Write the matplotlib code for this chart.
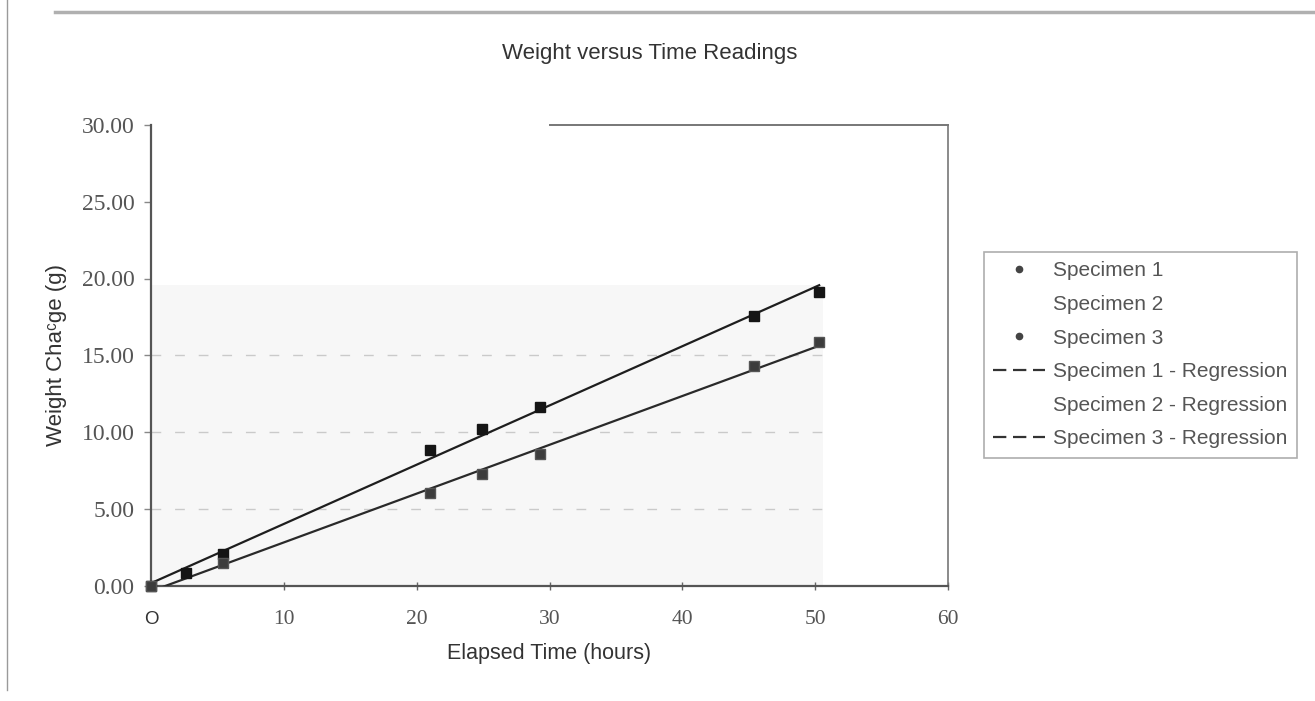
import numpy as np
import matplotlib
matplotlib.use("Agg")
import matplotlib.pyplot as plt
from matplotlib.lines import Line2D

# ---- data ----
time_1 = [0.0, 2.6, 5.4, 21.0, 24.9, 29.3, 45.4, 50.3]
weight_1 = [0.00, 0.84, 2.05, 8.83, 10.18, 11.65, 17.56, 19.14]
time_3 = [0.0, 5.4, 21.0, 24.9, 29.3, 45.4, 50.3]
weight_3 = [0.00, 1.45, 6.00, 7.24, 8.55, 14.32, 15.88]

x_ticks = [0, 10, 20, 30, 40, 50, 60]
x_tick_labels = ["O", "10", "20", "30", "40", "50", "60"]
y_ticks = [0, 5, 10, 15, 20, 25, 30]
grid_levels = [5, 10, 15]
legend_labels = ["Specimen 1", "Specimen 2", "Specimen 3",
                 "Specimen 1 - Regression", "Specimen 2 - Regression",
                 "Specimen 3 - Regression"]

title = "Weight versus Time Readings"
x_label = "Elapsed Time (hours)"
y_label = "Weight Cha\u1d9cge (g)"

SANS = ["Liberation Sans", "DejaVu Sans"]
SERIF = ["Liberation Serif", "DejaVu Serif"]

fig = plt.figure(figsize=(13.15, 7.01), dpi=100)
ax = fig.add_axes([151 / 1315, 1 - 585.5 / 701, (948 - 151) / 1315, (585.5 - 125) / 701])

t1 = np.array(time_1); w1 = np.array(weight_1)
t3 = np.array(time_3); w3 = np.array(weight_3)
p1 = np.polyfit(t1, w1, 1)
p3 = np.polyfit(t3, w3, 1)
t_max = max(t1.max(), t3.max())
fit_x = np.array([0.0, t_max])

# faint scanned background and gridlines
ax.fill_between([0, t_max + 0.3], 0, np.polyval(p1, t_max), color="#f7f7f7", zorder=0, lw=0)
ax.hlines(grid_levels, 0, t_max + 0.3, colors="#cacaca", linestyles=(0, (7, 10)), lw=1.0, zorder=1)

# regression lines
ax.plot(fit_x, np.polyval(p1, fit_x), color="#1e1e1e", lw=1.6, zorder=3)
ax.plot(fit_x, np.polyval(p3, fit_x), color="#2a2a2a", lw=1.6, zorder=3)

# data points
ax.plot(t1, w1, "s", ms=7, color="#151515", mec="#151515", zorder=4, clip_on=False)
ax.plot(t3, w3, "s", ms=7, color="#3c3c3c", mec="#555555", zorder=4, clip_on=False)

ax.set_xlim(0, 60)
ax.set_ylim(0, 30)
ax.set_xticks(x_ticks)
ax.set_xticklabels(x_tick_labels)
ax.set_yticks(y_ticks)
ax.set_yticklabels([f"{v:.2f}" for v in y_ticks])

for lab in ax.get_yticklabels():
    lab.set_fontfamily(SERIF); lab.set_fontsize(17); lab.set_color("#555555")
for i, lab in enumerate(ax.get_xticklabels()):
    if i == 0:
        lab.set_fontfamily(SANS); lab.set_fontsize(13.5)
        lab.set_color("#333333")
    else:
        lab.set_fontfamily(SERIF); lab.set_fontsize(15.5)
        lab.set_color("#555555")

ax.tick_params(axis="y", direction="out", length=5, width=1, color="#888888", pad=7)
ax.tick_params(axis="x", direction="inout", length=6, width=1, color="#666666", pad=15)

for side in ["left", "bottom"]:
    ax.spines[side].set_color("#555555")
    ax.spines[side].set_linewidth(1.6)
ax.spines["right"].set_color("#777777")
ax.spines["right"].set_linewidth(1.2)
ax.spines["top"].set_color("#777777")
ax.spines["top"].set_linewidth(1.4)
ax.spines["top"].set_bounds(30, 60)
ax.set_facecolor("white")

ax.set_xlabel(x_label, fontfamily=SANS, fontsize=15.5, color="#333333")
ax.xaxis.set_label_coords(0.5, -0.125)
ax.set_ylabel(y_label, fontfamily=SANS, fontsize=16, color="#333333")
ax.yaxis.set_label_coords(-0.105, 0.5)

fig.text(650 / 1315, 1 - 53 / 701, title, ha="center", va="center",
         fontfamily=SANS, fontsize=16, color="#333333")

# legend
handles = [
    Line2D([], [], ls="none", marker="o", ms=4.5, color="#444444"),
    Line2D([], [], ls="none"),
    Line2D([], [], ls="none", marker="o", ms=4.5, color="#444444"),
    Line2D([], [], ls=(0, (6, 3)), lw=1.6, color="#333333"),
    Line2D([], [], ls="none"),
    Line2D([], [], ls=(0, (6, 3)), lw=1.6, color="#333333"),
]
leg = fig.legend(handles, legend_labels, loc="upper left",
                 bbox_to_anchor=(984 / 1315, 1 - 252 / 701),
                 prop={"family": SANS, "size": 15}, labelcolor="#555555",
                 frameon=True, fancybox=False, borderpad=0.45,
                 handlelength=2.5, handletextpad=0.35, labelspacing=0.7,
                 borderaxespad=0)
leg.get_frame().set_edgecolor("#9a9a9a")
leg.get_frame().set_linewidth(1.2)

# page-scan frame lines
fig.add_artist(Line2D([55 / 1315, 1.0], [1 - 12 / 701, 1 - 12 / 701],
                      color="#b0b0b0", lw=2.5, transform=fig.transFigure))
fig.add_artist(Line2D([7 / 1315, 7 / 1315], [0.015, 1.0],
                      color="#9a9a9a", lw=1.0, transform=fig.transFigure))

fig.savefig("out.png", dpi=100)
